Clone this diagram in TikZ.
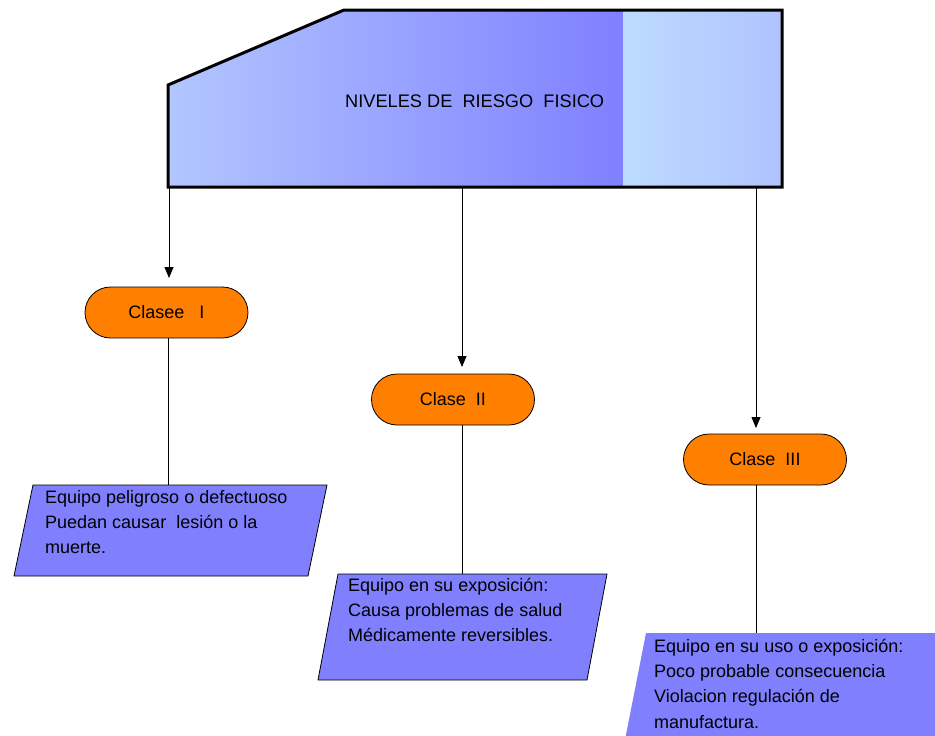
\documentclass[tikz,border=0pt]{standalone}
\usepackage{fontspec}
\setmainfont{Liberation Sans}
\usetikzlibrary{arrows.meta,shapes.misc}
\definecolor{hdrA}{HTML}{B2C6FF}
\definecolor{hdrB}{HTML}{7F80FF}
\definecolor{hdrC}{HTML}{BDDBFF}
\definecolor{hdrD}{HTML}{AFC3FF}
\definecolor{pillfill}{HTML}{FF8000}
\definecolor{boxfill}{HTML}{8080FF}
\newcommand{\firstln}{\rule{0pt}{14pt}}
\begin{document}
\begin{tikzpicture}[x=1pt,y=-1pt,
  pill/.style={rounded rectangle, draw=black, line width=0.8pt, fill=pillfill,
    minimum width=163pt, minimum height=51pt, inner sep=0pt,
    font=\fontsize{18}{22}\selectfont},
  arr/.style={draw=black, line width=0.8pt, -{Triangle[length=11pt,width=9pt]}},
  conn/.style={draw=black, line width=0.8pt},
  para/.style={fill=boxfill, draw=black, line width=0.8pt},
  boxtext/.style={anchor=north west, inner sep=0pt, align=left,
    font=\fontsize{18}{25.3}\selectfont}]
\useasboundingbox (0,0) rectangle (935,736);
\clip (0,0) rectangle (935,736);
\fill[white] (0,0) rectangle (935,736);

% header
\begin{scope}
  \clip (168,187) -- (168,85) -- (344,10) -- (782,10) -- (782,187) -- cycle;
  \shade[left color=hdrA, right color=hdrB] (168,10) rectangle (623,187);
  \shade[left color=hdrC, right color=hdrD] (623,10) rectangle (782,187);
\end{scope}
\draw[line width=3pt, line join=miter] (168,187) -- (168,85) -- (344,10) -- (782,10) -- (782,187) -- cycle;
\node[inner sep=0pt, minimum width=614pt, minimum height=177pt] (hdr) at (475,98.5) {};
\node[anchor=base west, inner sep=0pt, font=\fontsize{18.2}{22}\selectfont] (title) at (345,107) {NIVELES DE\ \ RIESGO\ \ FISICO};

% pills
\node[pill] (cls1) at (166.5,312.5) {Clasee\ \ \ I};
\node[pill] (cls2) at (453,399.5) {Clase\ \ II};
\node[pill] (cls3) at (765,459.5) {Clase\ \ III};

% arrow tips
\coordinate (a1) at (169,278);
\coordinate (a2) at (462,367);
\coordinate (a3) at (756,428);
\draw[arr] (hdr.south -| a1) -- (a1);
\draw[arr] (hdr.south -| a2) -- (a2);
\draw[arr] (hdr.south -| a3) -- (a3);

% parallelograms
\draw[para] (33,485) -- (327,485) -- (308,576) -- (14,576) -- cycle;
\draw[para] (338,574) -- (607,574) -- (587,680) -- (318,680) -- cycle;
\fill[boxfill] (646,633) -- (960,633) -- (939,740) -- (625,740) -- cycle;

\coordinate (b1) at (168,485);
\coordinate (b2) at (462,574);
\coordinate (b3) at (756,633);
\draw[conn] (cls1.south -| b1) -- (b1);
\draw[conn] (cls2.south -| b2) -- (b2);
\draw[conn] (cls3.south -| b3) -- (b3);

\node[boxtext] (t1) at (45,489) {\firstln Equipo peligroso o defectuoso\\Puedan causar\ \ lesión o la\\muerte.};
\node[boxtext] (t2) at (348,577) {\firstln Equipo en su exposición:\\Causa problemas de salud\\Médicamente reversibles.};
\node[boxtext] (t3) at (654,638) {\firstln Equipo en su uso o exposición:\\Poco probable consecuencia\\Violacion regulación de\\manufactura.};
\end{tikzpicture}
\end{document}
